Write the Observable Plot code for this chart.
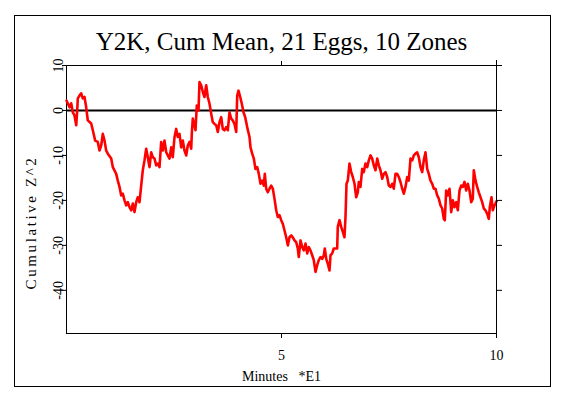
<!DOCTYPE html>
<html>
<head>
<meta charset="utf-8">
<script src="https://cdn.jsdelivr.net/npm/d3@7"></script>
<script src="https://cdn.jsdelivr.net/npm/@observablehq/plot@0.6"></script>
<style>
  html, body { margin: 0; padding: 0; background: white; }
  #wrap { position: relative; width: 563px; height: 399px; background: white; }
  #border { position: absolute; left: 14px; top: 15px; width: 535px; height: 370px; border: 1px solid black; pointer-events: none; }
</style>
</head>
<body>
<div id="wrap"><div id="border"></div></div>
<script>
const title = "Y2K, Cum Mean, 21 Eggs, 10 Zones";
const xLabel = "Minutes\u00a0\u00a0 *E1";
const yLabel = "Cumulative Z^2";
const xTicks = [5, 10];
const yTicks = [10, 0, -10, -20, -30, -40];

const minutes = [0.000,0.070,0.109,0.147,0.186,0.226,0.249,0.263,0.302,0.342,0.379,0.419,0.458,0.495,0.574,0.612,0.667,0.728,0.767,0.807,0.844,0.884,0.923,0.960,1.040,1.077,1.156,1.193,1.233,1.272,1.309,1.349,1.388,1.426,1.465,1.505,1.542,1.581,1.621,1.658,1.698,1.737,1.774,1.814,1.853,1.891,1.930,1.970,2.007,2.047,2.086,2.123,2.163,2.202,2.240,2.279,2.319,2.356,2.395,2.435,2.472,2.512,2.551,2.588,2.628,2.667,2.705,2.744,2.784,2.821,2.860,2.900,2.914,2.937,2.977,3.000,3.030,3.070,3.093,3.133,3.170,3.209,3.249,3.286,3.326,3.365,3.402,3.442,3.481,3.519,3.558,3.598,3.635,3.674,3.714,3.751,3.791,3.830,3.867,3.907,3.947,3.970,4.000,4.040,4.077,4.116,4.156,4.202,4.256,4.279,4.319,4.356,4.395,4.435,4.472,4.512,4.551,4.588,4.612,4.644,4.681,4.721,4.760,4.798,4.837,4.877,4.914,4.953,4.993,5.030,5.070,5.109,5.147,5.186,5.226,5.263,5.302,5.342,5.379,5.402,5.442,5.481,5.519,5.558,5.598,5.635,5.674,5.714,5.751,5.791,5.830,5.867,5.907,5.947,5.984,6.007,6.040,6.077,6.116,6.140,6.179,6.216,6.256,6.295,6.309,6.349,6.388,6.426,6.465,6.488,6.512,6.542,6.581,6.621,6.658,6.698,6.737,6.774,6.798,6.837,6.877,6.914,6.953,6.993,7.030,7.070,7.109,7.147,7.186,7.226,7.263,7.302,7.342,7.379,7.419,7.458,7.495,7.535,7.574,7.612,7.651,7.691,7.728,7.767,7.807,7.844,7.884,7.923,7.960,8.000,8.040,8.077,8.116,8.156,8.193,8.233,8.272,8.309,8.349,8.388,8.426,8.465,8.505,8.542,8.581,8.621,8.658,8.698,8.737,8.774,8.798,8.830,8.867,8.907,8.947,8.984,9.023,9.063,9.100,9.140,9.179,9.216,9.256,9.295,9.333,9.372,9.412,9.449,9.472,9.512,9.551,9.588,9.628,9.667,9.705,9.744,9.784,9.821,9.844,9.884,9.914,9.953,9.977,10.000];

const cumZ2 = [2.2,0.7,1.6,-0.4,-1.1,-3.3,0.0,2.7,3.3,3.8,2.7,3.0,0.7,-2.2,-2.9,-4.4,-6.7,-7.0,-8.9,-7.8,-5.2,-6.7,-8.9,-9.6,-10.7,-12.6,-14.1,-15.6,-17.0,-18.9,-18.5,-20.0,-21.1,-20.4,-21.5,-22.2,-20.7,-22.6,-20.4,-19.3,-20.4,-16.7,-13.3,-11.1,-8.5,-10.4,-12.6,-9.3,-10.4,-10.7,-12.2,-11.8,-12.6,-7.0,-8.9,-6.7,-9.3,-10.0,-10.7,-8.2,-10.4,-5.9,-4.1,-5.9,-5.2,-8.2,-6.7,-8.9,-10.0,-7.8,-7.0,-8.5,-5.2,-1.8,-3.3,-4.4,1.1,0.0,6.3,5.6,4.1,3.0,5.6,3.0,1.5,-0.7,-2.6,-3.0,-3.3,-4.8,-2.6,-1.5,-4.1,-4.4,-3.7,-4.4,-0.4,-1.8,-2.2,-3.0,-4.8,3.3,4.4,3.0,1.5,-0.4,-1.5,-3.7,-5.9,-8.2,-9.6,-10.7,-13.0,-12.6,-14.1,-16.3,-15.6,-16.7,-14.1,-17.4,-18.2,-17.4,-16.7,-17.4,-19.6,-22.2,-23.7,-23.3,-24.4,-25.2,-26.7,-28.2,-30.0,-28.2,-27.8,-28.2,-28.9,-29.3,-30.7,-32.6,-28.9,-30.4,-31.1,-29.6,-31.8,-30.4,-31.1,-32.2,-33.3,-35.9,-34.4,-33.3,-32.6,-33.0,-32.2,-30.7,-33.0,-34.1,-35.6,-32.2,-31.8,-30.7,-30.7,-30.7,-25.9,-24.4,-25.9,-27.0,-28.2,-23.7,-16.3,-15.6,-11.8,-13.7,-14.8,-16.3,-19.3,-18.2,-15.9,-17.0,-13.0,-13.7,-11.8,-12.6,-11.1,-10.0,-10.7,-12.2,-13.3,-10.7,-12.2,-13.3,-15.2,-14.1,-13.7,-14.8,-16.7,-17.0,-16.3,-17.4,-14.1,-14.1,-14.8,-15.9,-17.4,-18.5,-17.0,-14.8,-15.6,-10.7,-11.1,-10.0,-9.6,-9.3,-10.4,-12.6,-13.7,-11.1,-9.3,-13.0,-14.1,-15.6,-16.3,-17.4,-17.4,-18.9,-19.6,-21.1,-21.8,-24.1,-24.4,-17.8,-18.9,-17.4,-22.6,-20.0,-21.5,-20.4,-22.2,-17.8,-16.7,-17.0,-15.9,-17.8,-16.3,-17.8,-20.4,-19.6,-13.3,-15.6,-17.0,-18.2,-19.3,-20.4,-21.8,-22.2,-23.0,-24.1,-21.5,-19.3,-22.2,-21.1,-20.7,-20.2];

const data = minutes.map((m, i) => ({minutes: m, value: cumZ2[i]}));

const serif = "'Liberation Serif', 'DejaVu Serif', serif";

const chart = Plot.plot({
  width: 563,
  height: 399,
  marginLeft: 66,
  marginRight: 67,
  marginTop: 65,
  marginBottom: 66,
  style: {fontFamily: serif, fontSize: "14px", background: "white", color: "black"},
  x: {domain: [0, 10]},
  y: {domain: [-49.6, 10]},
  marks: [
    Plot.frame({stroke: "black", strokeWidth: 1}),
    Plot.ruleY([0], {stroke: "black", strokeWidth: 2}),
    Plot.line(data, {x: "minutes", y: "value", stroke: "#ff0000", strokeWidth: 2.6}),
    Plot.axisX(xTicks, {anchor: "bottom", tickSize: 5, tickPadding: 12, tickFormat: d => String(d), label: null, fontSize: 14}),
    Plot.axisX(xTicks, {anchor: "top", tickSize: 5, tickFormat: () => "", label: null}),
    Plot.axisY(yTicks, {anchor: "left", tickSize: 4, tickFormat: () => "", label: null}),
    Plot.axisY(yTicks, {anchor: "right", tickSize: 5, tickFormat: () => "", label: null}),
    Plot.ruleX([10], {stroke: "black", insetTop: -5, insetBottom: -5}),
    Plot.text(yTicks, {y: d => d, text: d => String(d), frameAnchor: "left", rotate: -90, textAnchor: "middle", lineAnchor: "bottom", dx: -4, fontSize: 14}),
    Plot.text([yLabel], {frameAnchor: "left", rotate: -90, textAnchor: "middle", lineAnchor: "bottom", dx: -31, dy: 23, fontSize: 15}),
    Plot.text([xLabel], {frameAnchor: "bottom", lineAnchor: "bottom", dy: 47, fontSize: 14}),
    Plot.text([title], {frameAnchor: "top", lineAnchor: "bottom", dy: -16, fontSize: 25})
  ]
});

d3.select(chart).selectAll("text")
  .filter(function () { return this.textContent === yLabel; })
  .attr("letter-spacing", "2.6px");

document.getElementById("wrap").insertBefore(chart, document.getElementById("border"));
</script>
</body>
</html>
